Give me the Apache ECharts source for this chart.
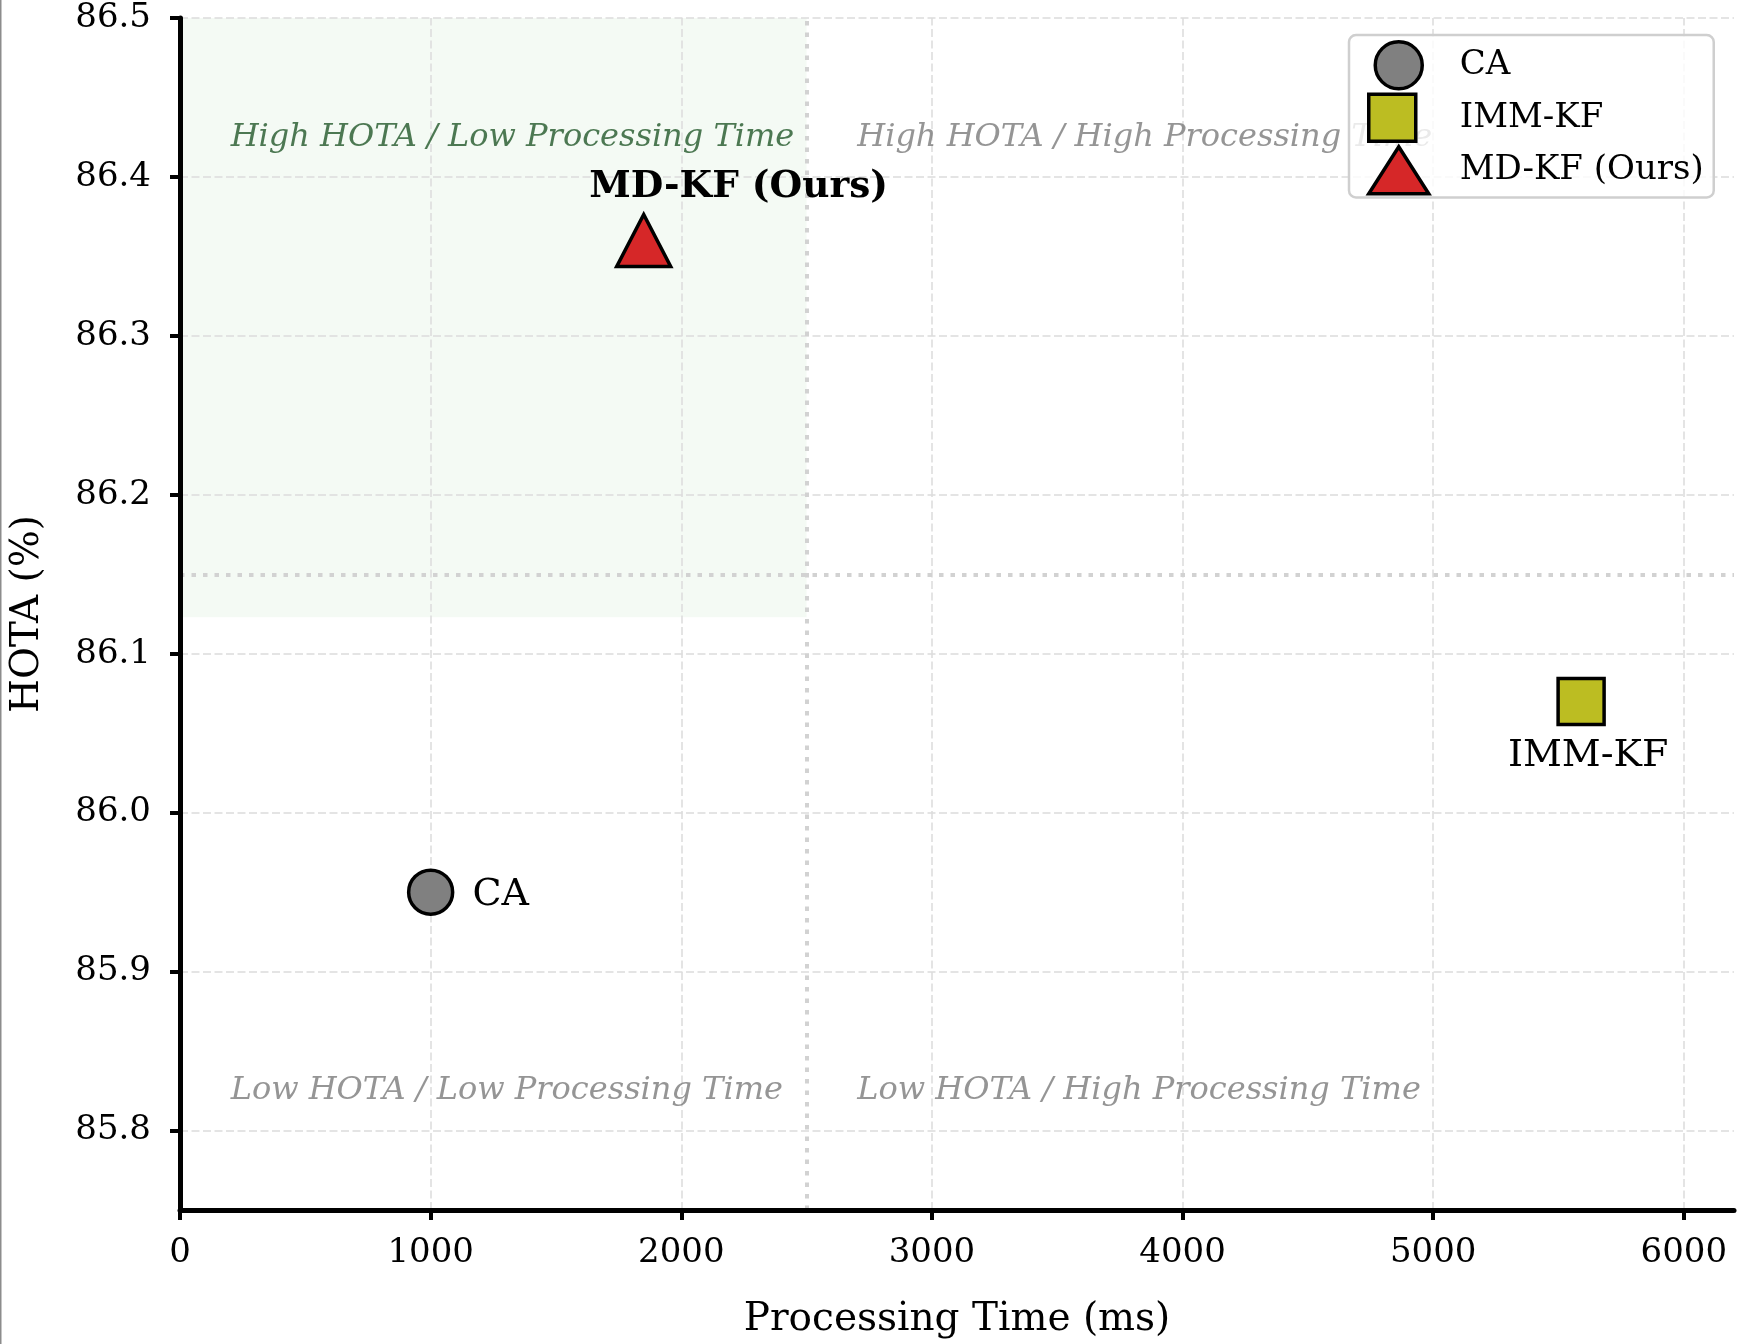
<!DOCTYPE html>
<html><head><meta charset="utf-8">
<script src="https://cdn.jsdelivr.net/npm/echarts@6/dist/echarts.min.js"></script>
<style>html,body{margin:0;padding:0;background:#fff}#c{width:1737px;height:1344px}</style>
</head><body><div id="c"></div>
<script>
// ---- data ----
const methods = ['CA', 'IMM-KF', 'MD-KF (Ours)'];
const processingTime = [1000, 5590, 1850];
const hotaValues = [85.95, 86.07, 86.36];
const xTicks = [0, 1000, 2000, 3000, 4000, 5000, 6000];
const yTicks = [85.8, 85.9, 86.0, 86.1, 86.2, 86.3, 86.4, 86.5];
const xRange = [0, 6200];
const yRange = [85.75, 86.5];
const timeThreshold = 2500;
const hotaThreshold = 86.15;
const shadeHotaFloor = 86.123;
const quadrantTexts = ['High HOTA / Low Processing Time', 'High HOTA / High Processing Time',
                       'Low HOTA / Low Processing Time', 'Low HOTA / High Processing Time'];
const quadrantX = [200, 2700, 200, 2700];
const quadrantY = [86.425, 86.425, 85.825, 85.825];

// ---- styles ----
const F = 'DejaVu Serif';
const methodColors = ['#808080', '#bcbd22', '#d62728'];
const methodSymbols = ['circle', 'rect', 'triangle'];
const legendIcons = ['circle', 'square', 'triangle'];
const symbolSizes = [44, 46, [54, 52]];
const labelCfg = [
  {position: 'right', distance: 18, fontSize: 38, fontWeight: 'normal', offset: [0, 3]},
  {position: 'bottom', distance: 11, fontSize: 38, fontWeight: 'normal', offset: [7, 0]},
  {position: 'inside', distance: 0, fontSize: 37.5, fontWeight: 'bold', offset: [95, -53]}
];
const quadrantColors = ['#225829', '#7a7a7a', '#7a7a7a', '#7a7a7a'];

const gridLineStyle = {type: [8, 3.5], width: 1.5, color: '#dcdcdc'};
const dotLineStyle = {type: [4.5, 7], width: 4, color: '#d2d2d2', cap: 'butt'};

const markLineData = []
  .concat(xTicks.filter(v => v > xRange[0]).map(v => ({xAxis: v, lineStyle: gridLineStyle})))
  .concat(yTicks.filter(v => v > yRange[0]).map(v => ({yAxis: v, lineStyle: gridLineStyle})))
  .concat([{xAxis: timeThreshold, lineStyle: dotLineStyle}, {yAxis: hotaThreshold, lineStyle: dotLineStyle}]);

const chart = echarts.init(document.getElementById('c'), null, {renderer: 'canvas'});
const axisCommon = {
  axisLine: {show: true, onZero: false, lineStyle: {color: '#000', width: 5}},
  splitLine: {show: false},
  nameTextStyle: {fontFamily: F, fontSize: 39, color: '#000'}
};
const option = {
  animation: false,
  backgroundColor: '#fff',
  textStyle: {fontFamily: F},
  grid: {left: 177, right: 3, top: 18, bottom: 128, containLabel: false},
  xAxis: Object.assign({
    type: 'value', min: xRange[0], max: xRange[1],
    name: 'Processing Time (ms)', nameLocation: 'middle', nameGap: 90,
    axisTick: {show: true, customValues: xTicks, length: 10, lineStyle: {color: '#000', width: 4}},
    axisLabel: {customValues: xTicks, fontSize: 34, margin: 26, color: '#000', fontFamily: F,
                formatter: v => String(v)}
  }, axisCommon),
  yAxis: Object.assign({
    type: 'value', min: yRange[0], max: yRange[1],
    name: 'HOTA (%)', nameLocation: 'middle', nameGap: 133,
    axisTick: {show: true, customValues: yTicks, length: 10, lineStyle: {color: '#000', width: 4}},
    axisLabel: {customValues: yTicks, fontSize: 34, margin: 29, color: '#000', fontFamily: F,
                formatter: v => Number(v).toFixed(1)}
  }, axisCommon),
  legend: {
    z: 20,
    orient: 'vertical', left: 1349, top: 35,
    data: methods.map((m, i) => ({name: m, icon: legendIcons[i]})),
    itemWidth: 60, itemHeight: 47, itemGap: 2,
    padding: [5, 10, 2, 18],
    backgroundColor: 'rgba(255,255,255,0.8)',
    borderColor: '#cfcfcf', borderWidth: 2.5, borderRadius: 7,
    itemStyle: {borderWidth: 3.5, borderColor: '#000'},
    textStyle: {fontFamily: F, fontSize: 34, color: '#000', padding: [0, 0, 0, 26]},
    selectedMode: false
  },
  graphic: [{type: 'rect', left: 0, top: 0, shape: {width: 1.5, height: 1344}, style: {fill: '#8c8c8c'}}],
  series: [
    {
      type: 'scatter', name: '_guides', z: 0, silent: true, data: [],
      markArea: {z: 0, silent: true, itemStyle: {color: 'rgba(0,128,0,0.045)'},
        data: [[{xAxis: xRange[0], yAxis: shadeHotaFloor}, {xAxis: timeThreshold, yAxis: yRange[1]}]]},
      markLine: {z: 0, silent: true, symbol: 'none', animation: false, label: {show: false}, data: markLineData}
    },
    {
      type: 'scatter', name: '_quadrants', z: 1, silent: true, symbolSize: 1,
      itemStyle: {color: 'rgba(0,0,0,0)'},
      data: quadrantTexts.map((t, i) => ({value: [quadrantX[i], quadrantY[i]], label: {color: quadrantColors[i]}})),
      label: {show: true, position: 'right', distance: 0, formatter: p => quadrantTexts[p.dataIndex],
              fontFamily: F, fontStyle: 'italic', fontSize: 32, color: '#7a7a7a'}
    }
  ].concat(methods.map((m, i) => ({
    type: 'scatter', name: m, z: 5,
    symbol: methodSymbols[i], symbolSize: symbolSizes[i],
    data: [[processingTime[i], hotaValues[i]]],
    itemStyle: {color: methodColors[i], borderColor: '#000', borderWidth: 3.5, opacity: 1},
    label: Object.assign({show: true, formatter: m, color: '#000', fontFamily: F}, labelCfg[i]),
    emphasis: {disabled: true}
  })))
};
chart.setOption(option);
</script></body></html>
